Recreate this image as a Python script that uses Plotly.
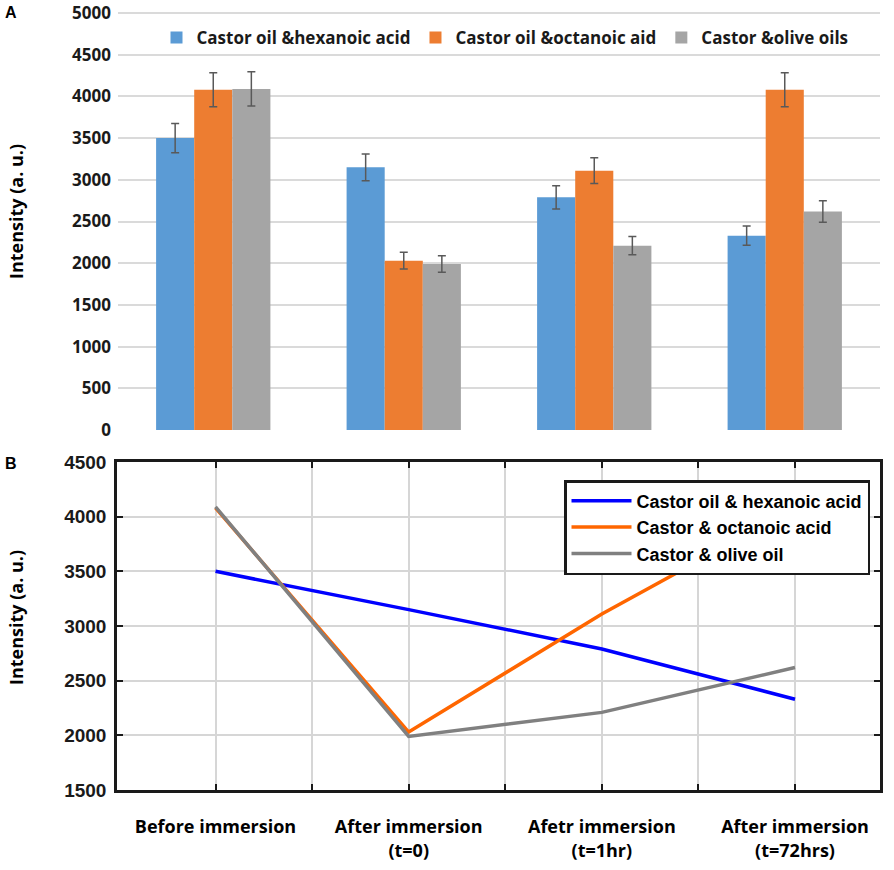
import plotly.graph_objects as go

categories = ["Before immersion", "After immersion<br>(t=0)", "Afetr immersion<br>(t=1hr)", "After immersion<br>(t=72hrs)"]
bar_names = ["Castor oil &hexanoic acid", "Castor oil &octanoic aid", "Castor &olive oils"]
line_names = ["Castor oil & hexanoic acid", "Castor & octanoic acid", "Castor & olive oil"]
hexanoic = [3500, 3150, 2790, 2330]
octanoic = [4080, 2030, 3110, 4080]
olive = [4090, 1990, 2210, 2620]
hexanoic_err = [175, 160, 140, 115]
octanoic_err = [205, 100, 155, 205]
olive_err = [205, 100, 110, 130]

bar_colors = ["#5B9BD5", "#ED7D31", "#A5A5A5"]
line_colors = ["#0000FF", "#FF6600", "#808080"]
OPEN = "Open Sans, DejaVu Sans, sans-serif"
ARIAL = "Liberation Sans, Arial, sans-serif"

W, H = 894, 870
def fx(px):
    return px / W
def fy(py):
    return 1 - py / H

fig = go.Figure()
series = [hexanoic, octanoic, olive]
errs = [hexanoic_err, octanoic_err, olive_err]
bar_x = ["c%d" % i for i in range(len(categories))]
for name, vals, err, col in zip(bar_names, series, errs, bar_colors):
    fig.add_trace(go.Bar(
        x=bar_x, y=vals, name=name, marker=dict(color=col, line=dict(width=0)),
        error_y=dict(type="data", array=err, color="#595959", thickness=1.5, width=4),
        xaxis="x", yaxis="y", legend="legend"))

xnum = [1, 2, 3, 4]
for name, vals, col in zip(line_names, series, line_colors):
    fig.add_trace(go.Scatter(
        x=xnum, y=vals, name=name, mode="lines", line=dict(color=col, width=3.5),
        xaxis="x2", yaxis="y2", legend="legend2"))

fig.update_layout(
    width=W, height=H,
    margin=dict(l=0, r=0, t=0, b=0),
    paper_bgcolor="white", plot_bgcolor="white",
    barmode="group", bargap=0.40, bargroupgap=0,
    xaxis=dict(domain=[fx(118), fx(880)], anchor="y", range=[-0.5, 3.5],
               showticklabels=False, showgrid=False, zeroline=False, ticks=""),
    yaxis=dict(domain=[fy(430), fy(10.5)], anchor="x", range=[0, 5030],
               tickvals=[0, 500, 1000, 1500, 2000, 2500, 3000, 3500, 4000, 4500, 5000],
               showgrid=True, gridcolor="#DADADA", gridwidth=1.5, zeroline=False,
               showline=False, tickfont=dict(family=OPEN, size=17, color="#1a1a1a", weight="bold"),
               ticklabelstandoff=6, ticklabeloverflow="allow", automargin=False),
    xaxis2=dict(domain=[fx(117), fx(880)], anchor="y2", range=[0.49, 4.44],
                tickvals=[1, 1.5, 2, 2.5, 3, 3.5, 4],
                ticktext=[categories[0], "", categories[1], "", categories[2], "", categories[3]],
                ticks="inside", ticklen=6, tickwidth=2, tickcolor="#1a1a1a",
                showline=True, linecolor="#1a1a1a", linewidth=2.5, mirror="allticks",
                showgrid=True, gridcolor="#D6D6D6", gridwidth=1.5, zeroline=False,
                tickfont=dict(family=OPEN, size=18, color="#000000", weight="bold"),
                ticklabelstandoff=19, automargin=False),
    yaxis2=dict(domain=[fy(790), fy(462)], anchor="x2", range=[1500, 4500], dtick=500,
                ticks="inside", ticklen=6, tickwidth=2, tickcolor="#1a1a1a",
                showline=True, linecolor="#1a1a1a", linewidth=2.5, mirror="allticks",
                showgrid=True, gridcolor="#D6D6D6", gridwidth=1.5, zeroline=False,
                tickfont=dict(family=ARIAL, size=19, color="#1a1a1a", weight="bold"),
                ticklabelstandoff=4, automargin=False),
    legend=dict(orientation="h", x=fx(505), xanchor="center", y=fy(38), yanchor="middle",
                font=dict(family=OPEN, size=17, color="#1a1a1a", weight="bold"),
                bgcolor="rgba(0,0,0,0)", itemwidth=30, tracegroupgap=0),
    legend2=dict(x=fx(564), xanchor="left", y=fy(480), yanchor="top",
                 font=dict(family=ARIAL, size=18, color="#000000", weight="bold"),
                 bgcolor="white", bordercolor="#1a1a1a", borderwidth=2.5, tracegroupgap=0,
                 itemwidth=60),
    annotations=[
        dict(text="A", x=fx(11), y=fy(13), xref="paper", yref="paper", showarrow=False,
             xanchor="center", yanchor="middle",
             font=dict(family=ARIAL, size=16, color="#000000", weight="bold")),
        dict(text="B", x=fx(11), y=fy(463), xref="paper", yref="paper", showarrow=False,
             xanchor="center", yanchor="middle",
             font=dict(family=ARIAL, size=16, color="#000000", weight="bold")),
        dict(text="Intensity (a. u.)", x=fx(16), y=fy(212), xref="paper", yref="paper",
             showarrow=False, textangle=-90, xanchor="center", yanchor="middle",
             font=dict(family=OPEN, size=18, color="#000000", weight="bold")),
        dict(text="Intensity (a. u.)", x=fx(16), y=fy(618), xref="paper", yref="paper",
             showarrow=False, textangle=-90, xanchor="center", yanchor="middle",
             font=dict(family=OPEN, size=18, color="#000000", weight="bold")),
    ],
)

fig.write_html("out.html", config={"displayModeBar": False},
               post_script="document.body.style.margin='0';document.body.style.overflow='hidden';")
